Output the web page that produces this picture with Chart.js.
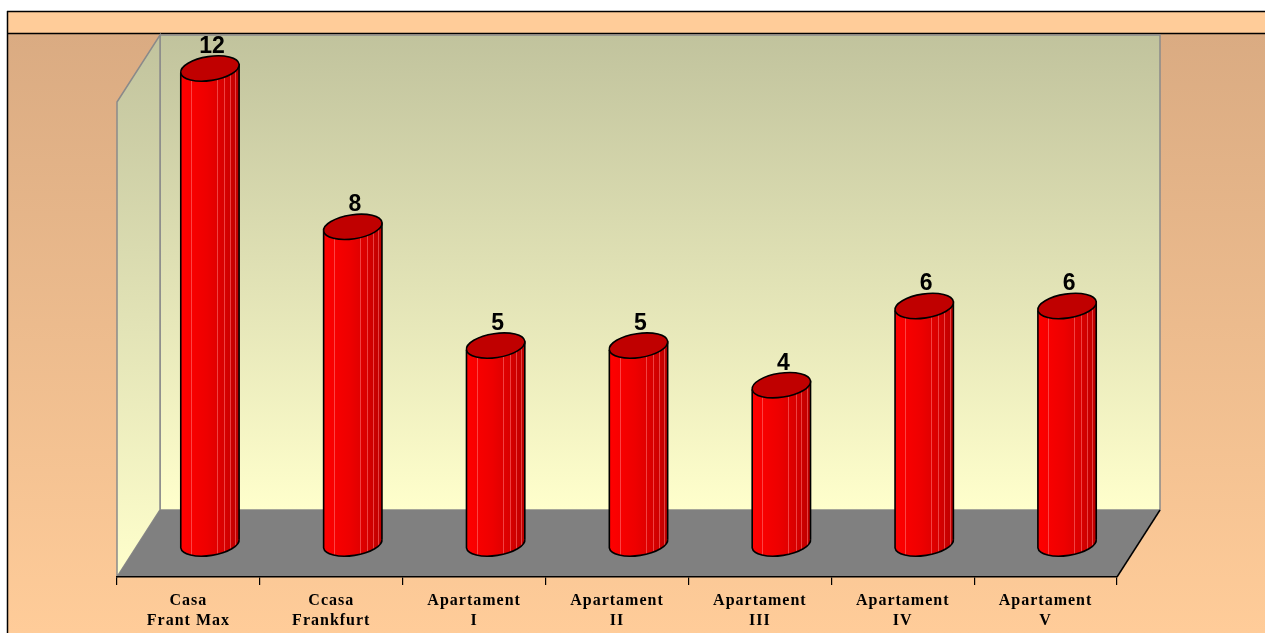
<!DOCTYPE html>
<html>
<head>
<meta charset="utf-8">
<script src="https://cdn.jsdelivr.net/npm/chart.js@4.4.1/dist/chart.umd.min.js"></script>
<style>
  html, body { margin: 0; padding: 0; background: #ffffff; }
  #wrap { width: 1265px; height: 633px; position: relative; }
</style>
</head>
<body>
<div id="wrap"><canvas id="c"></canvas></div>
<script>
const categories = [
  ["Casa", "Frant Max"],
  ["Ccasa", "Frankfurt"],
  ["Apartament", "I"],
  ["Apartament", "II"],
  ["Apartament", "III"],
  ["Apartament", "IV"],
  ["Apartament", "V"]
];
const values = [12, 8, 5, 5, 4, 6, 6];
const yMin = 0;
const yMax = 12;

const DX = 43, DY = -67; // 3D depth offset

const scenePlugin = {
  id: 'scene',
  beforeDraw(chart) {
    const ctx = chart.ctx;
    const a = chart.chartArea;
    const W = chart.width, H = chart.height;
    ctx.save();
    ctx.fillStyle = '#ffffff';
    ctx.fillRect(0, 0, W, H);
    const g = ctx.createLinearGradient(0, 33, 0, H);
    g.addColorStop(0, '#DAAB82');
    g.addColorStop(1, '#FFCC99');
    ctx.fillStyle = g;
    ctx.fillRect(7, 33, W - 7, H - 33);
    ctx.fillStyle = '#FFCC99';
    ctx.fillRect(7, 11, W - 7, 22);
    ctx.strokeStyle = '#000';
    ctx.lineWidth = 1.5;
    ctx.beginPath();
    ctx.moveTo(7, 11.5); ctx.lineTo(W, 11.5);
    ctx.moveTo(7, 33.5); ctx.lineTo(W, 33.5);
    ctx.moveTo(7.5, 11); ctx.lineTo(7.5, H);
    ctx.stroke();

    const L = a.left, R = a.right, T = a.top, B = a.bottom;
    const wg = ctx.createLinearGradient(0, T + DY, 0, B + DY);
    wg.addColorStop(0, '#C1C39D');
    wg.addColorStop(1, '#FFFFCC');
    ctx.fillStyle = wg;
    ctx.fillRect(L + DX, T + DY, R - L, B - T);
    ctx.strokeStyle = '#8A8A8A';
    ctx.lineWidth = 1.5;
    ctx.strokeRect(L + DX, T + DY, R - L, B - T);
    const sg = ctx.createLinearGradient(0, T + DY, 0, B);
    sg.addColorStop(0, '#C1C39D');
    sg.addColorStop(1, '#FFFFCC');
    ctx.fillStyle = sg;
    ctx.beginPath();
    ctx.moveTo(L, T); ctx.lineTo(L + DX, T + DY); ctx.lineTo(L + DX, B + DY); ctx.lineTo(L, B);
    ctx.closePath();
    ctx.fill();
    ctx.stroke();
    ctx.fillStyle = '#808080';
    ctx.beginPath();
    ctx.moveTo(L, B); ctx.lineTo(R, B); ctx.lineTo(R + DX, B + DY); ctx.lineTo(L + DX, B + DY);
    ctx.closePath();
    ctx.fill();
    ctx.strokeStyle = '#000';
    ctx.lineWidth = 1.5;
    ctx.beginPath();
    ctx.moveTo(R, B); ctx.lineTo(R + DX, B + DY);
    ctx.stroke();
    ctx.restore();
    // wider letter spacing for the axis labels (Excel-like)
    ctx.letterSpacing = '1px';
  },
  afterDatasetsDraw(chart) {
    const ctx = chart.ctx;
    ctx.letterSpacing = '0px';
    const meta = chart.getDatasetMeta(0);
    const rot = -0.15;
    meta.data.forEach((bar, i) => {
      const cx = bar.x + DX / 2;
      const r = bar.width / 2;
      const topY = bar.y + DY / 2;
      const baseY = bar.base + DY / 2;
      const ry = 12;
      const s = Math.sin(rot) * r, c = Math.cos(rot) * r;
      ctx.save();
      ctx.beginPath();
      ctx.ellipse(cx, baseY, r, ry, rot, 0, Math.PI, false);
      ctx.lineTo(cx - c, topY - s);
      ctx.ellipse(cx, topY, r, ry, rot, Math.PI, 2 * Math.PI, false);
      ctx.closePath();
      const bg = ctx.createLinearGradient(cx - r, 0, cx + r, 0);
      bg.addColorStop(0, '#FF0000');
      bg.addColorStop(0.45, '#EE0000');
      bg.addColorStop(0.75, '#D80000');
      bg.addColorStop(1, '#BB0000');
      ctx.fillStyle = bg;
      ctx.fill();
      ctx.save();
      ctx.clip();
      ctx.strokeStyle = 'rgba(255,120,120,0.55)';
      ctx.lineWidth = 1;
      [0.18, 0.62, 0.74, 0.84, 0.93].forEach(f => {
        const x = Math.round(cx - r + f * 2 * r) + 0.5;
        ctx.beginPath();
        ctx.moveTo(x, topY - ry - 10);
        ctx.lineTo(x, baseY + ry + 10);
        ctx.stroke();
      });
      ctx.restore();
      ctx.strokeStyle = '#000';
      ctx.lineWidth = 1.6;
      ctx.beginPath();
      ctx.ellipse(cx, baseY, r, ry, rot, 0, Math.PI, false);
      ctx.lineTo(cx - c, topY - s);
      ctx.moveTo(cx + c, topY + s);
      ctx.lineTo(cx + c, baseY + s);
      ctx.stroke();
      ctx.beginPath();
      ctx.ellipse(cx, topY, r, ry, rot, 0, 2 * Math.PI);
      ctx.fillStyle = '#C00000';
      ctx.fill();
      ctx.stroke();
      ctx.fillStyle = '#000';
      ctx.font = 'bold 23px "Liberation Sans", Arial, sans-serif';
      ctx.textAlign = 'center';
      ctx.textBaseline = 'middle';
      ctx.fillText(String(values[i]), cx + 2, topY - 22);
      ctx.restore();
    });
  }
};

new Chart(document.getElementById('c'), {
  type: 'bar',
  data: {
    labels: categories,
    datasets: [{
      data: values,
      backgroundColor: 'rgba(0,0,0,0)',
      borderWidth: 0,
      categoryPercentage: 1,
      barPercentage: 0.413
    }]
  },
  options: {
    responsive: true,
    maintainAspectRatio: false,
    animation: false,
    events: [],
    layout: { padding: { left: 117, right: 148, top: 102, bottom: 0 } },
    plugins: { legend: { display: false }, tooltip: { enabled: false }, title: { display: false } },
    scales: {
      x: {
        offset: true,
        afterFit(scale) { scale.height = 56; },
        grid: {
          offset: true,
          drawOnChartArea: false,
          drawTicks: true,
          tickLength: 8,
          color: '#000',
          lineWidth: 1.2
        },
        border: { display: true, color: '#000', width: 1.5 },
        ticks: {
          color: '#000',
          padding: 5,
          maxRotation: 0,
          autoSkip: false,
          font: { family: '"Liberation Serif", "Times New Roman", serif', weight: 'bold', size: 16, lineHeight: 1.3 }
        }
      },
      y: {
        display: false,
        min: yMin,
        max: yMax
      }
    }
  },
  plugins: [scenePlugin]
});
</script>
</body>
</html>
